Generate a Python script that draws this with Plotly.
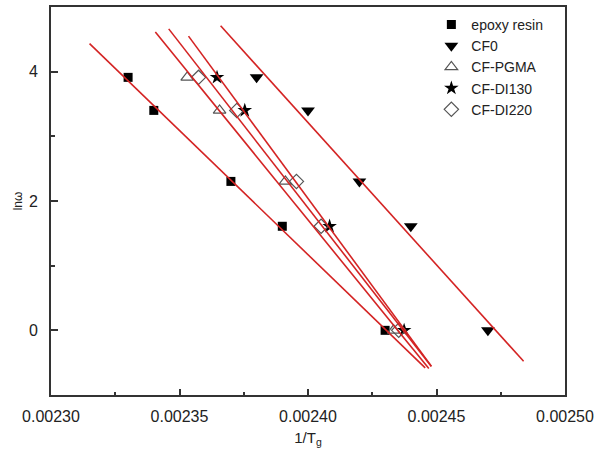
import numpy as np
import plotly.graph_objects as go

# ---- data ----
series_names = ["epoxy resin", "CF0", "CF-PGMA", "CF-DI130", "CF-DI220"]

x_epoxy = [0.00233, 0.00234, 0.00237, 0.00239, 0.00243]
y_epoxy = [3.912, 3.401, 2.303, 1.609, 0.0]

x_cf0 = [0.00238, 0.00240, 0.00242, 0.00244, 0.00247]
y_cf0 = [3.912, 3.401, 2.303, 1.609, 0.0]

x_pgma = [0.002353, 0.0023656, 0.0023912, 0.0024333]
y_pgma = [3.912, 3.401, 2.303, 0.0]

x_di130 = [0.0023646, 0.0023754, 0.0024084, 0.0024374]
y_di130 = [3.912, 3.401, 1.609, 0.0]

x_di220 = [0.0023574, 0.0023723, 0.0023955, 0.0024051, 0.0024353]
y_di220 = [3.912, 3.401, 2.303, 1.609, 0.0]

# x-extent of each linear-fit line
fit_x_start = [0.002315, 0.002366, 0.0023406, 0.0023535, 0.0023458]
fit_x_end = [0.0024456, 0.0024839, 0.002447, 0.002448, 0.002448]

x_tick_start, x_tick_step = 0.00230, 0.00005
y_tick_start, y_tick_step = 0, 2

# ---- styling ----
FONT = "Liberation Sans, Arial, sans-serif"
AX = "#333333"
RED = "#d42424"

styles = [
    dict(symbol="square", size=9, color="black", line=dict(width=0)),
    dict(symbol="triangle-down", size=12, color="black", line=dict(width=0)),
    dict(symbol="triangle-up-open", size=11, color="#555555", line=dict(width=1.2, color="#555555")),
    dict(symbol="star", size=11, color="black", line=dict(width=0)),
    dict(symbol="diamond-open", size=11, color="#555555", line=dict(width=1.2, color="#555555")),
]

xs = [x_epoxy, x_cf0, x_pgma, x_di130, x_di220]
ys = [y_epoxy, y_cf0, y_pgma, y_di130, y_di220]

fig = go.Figure()

for name, x, y, st in zip(series_names, xs, ys, styles):
    fig.add_trace(go.Scatter(x=x, y=y, mode="markers", name=name, marker=st))

for x, y, x0, x1 in zip(xs, ys, fit_x_start, fit_x_end):
    k, b = np.polyfit(np.array(x), np.array(y), 1)
    lx = np.array([x0, x1])
    fig.add_trace(go.Scatter(x=lx, y=k * lx + b, mode="lines",
                             line=dict(color=RED, width=1.6),
                             showlegend=False, hoverinfo="skip"))

fig.update_layout(
    width=596, height=462,
    margin=dict(l=51, r=31, t=7, b=67, autoexpand=False),
    paper_bgcolor="white", plot_bgcolor="white",
    font=dict(family=FONT, size=16, color="#222222"),
    showlegend=True,
    legend=dict(x=0.74, y=0.995, xanchor="left", yanchor="top",
                bgcolor="rgba(0,0,0,0)", borderwidth=0,
                font=dict(size=14, color="#222222"),
                itemwidth=30, tracegroupgap=0),
)

fig.update_xaxes(
    range=[0.0023, 0.0025], automargin=False,
    tickmode="linear", tick0=x_tick_start, dtick=x_tick_step, tickformat=".5f",
    ticks="inside", ticklen=6, tickwidth=1.5, tickcolor=AX,
    minor=dict(ticks="inside", ticklen=3, tickwidth=1.5, tickcolor=AX,
               tick0=0.002325, dtick=0.00005),
    showline=True, linewidth=2, linecolor=AX, mirror=True,
    showgrid=False, zeroline=False,
    tickfont=dict(size=16),
    ticklabelstandoff=6,
    title=dict(text="1/T<sub>g</sub>", font=dict(size=15), standoff=8),
)

fig.update_yaxes(
    range=[-1, 5], automargin=False,
    tickmode="linear", tick0=y_tick_start, dtick=y_tick_step,
    ticks="inside", ticklen=7, tickwidth=1.5, tickcolor=AX,
    minor=dict(ticks="inside", ticklen=4, tickwidth=1.5, tickcolor=AX,
               tick0=-1, dtick=2),
    showline=True, linewidth=2, linecolor=AX, mirror=True,
    showgrid=False, zeroline=False,
    tickfont=dict(size=16),
    ticklabelstandoff=8,
    title=dict(text="ln\u03c9", font=dict(size=12), standoff=4),
)

fig.write_html("out.html",
               config={"displayModeBar": False},
               post_script="document.body.style.margin='0';document.body.style.padding='0';")
